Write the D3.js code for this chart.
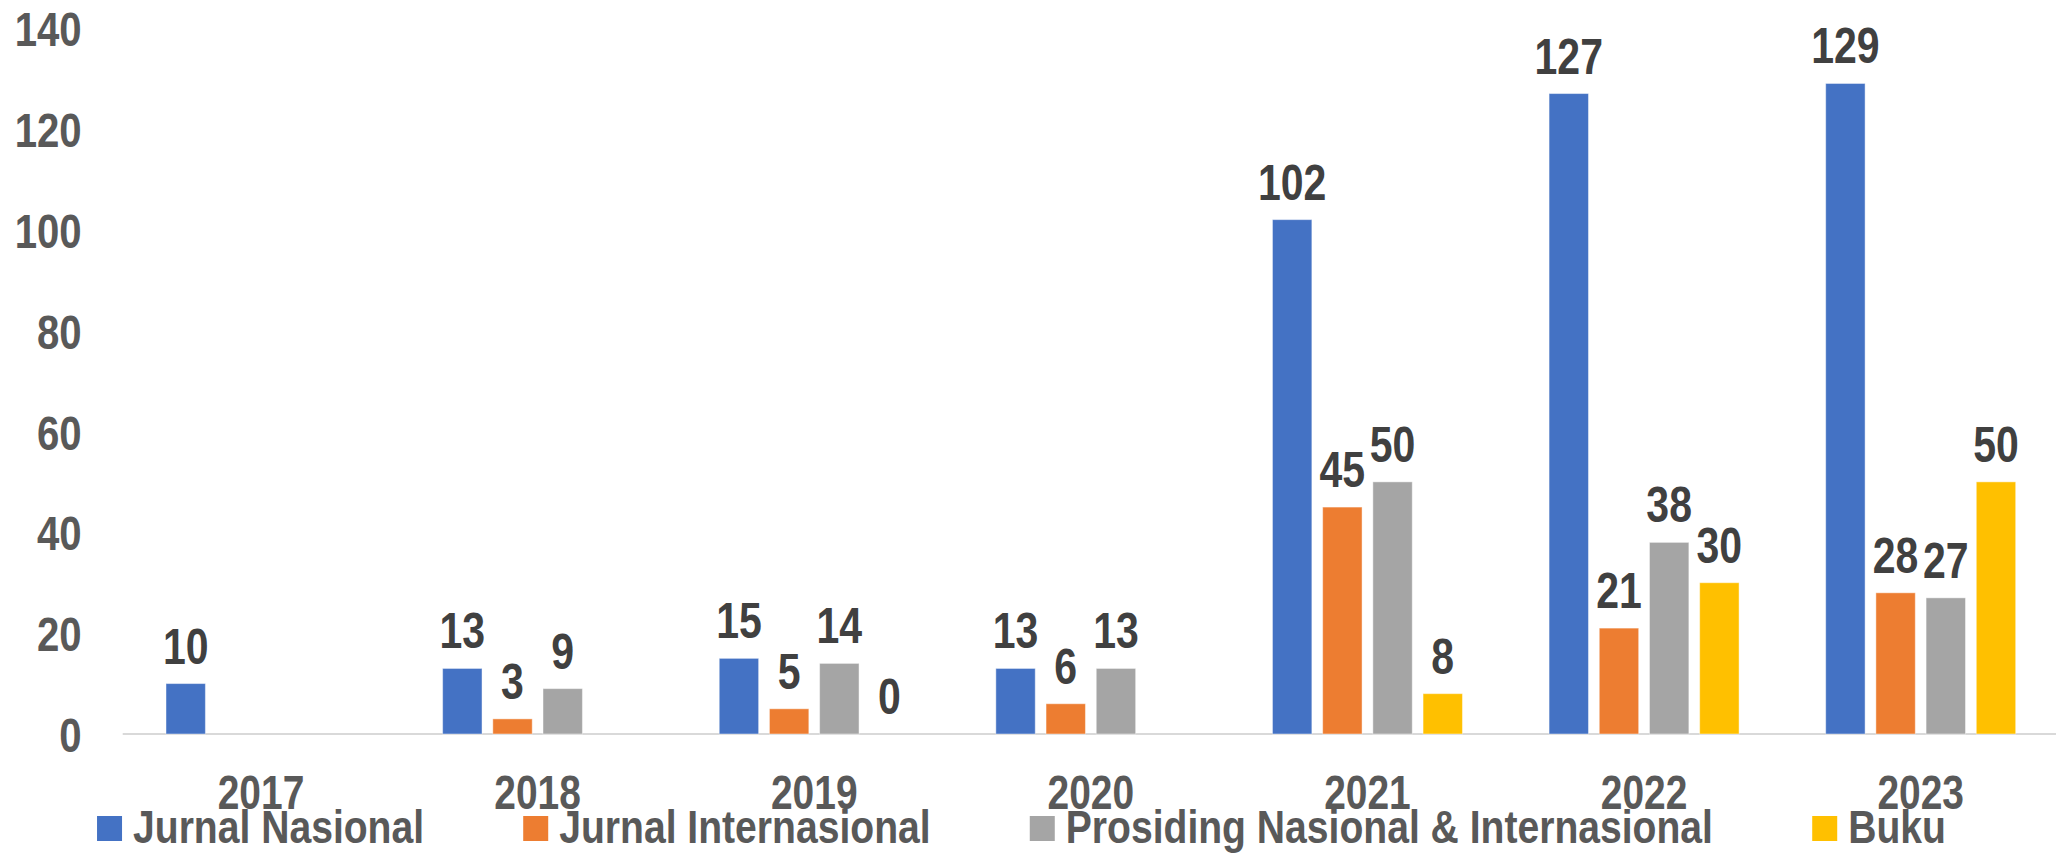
<!DOCTYPE html>
<html>
<head>
<meta charset="utf-8">
<script src="https://cdn.jsdelivr.net/npm/d3@7"></script>
<style>
  body { margin: 0; background: #fff; }
  text { font-family: "Liberation Sans", Arial, sans-serif; font-weight: bold; }
</style>
</head>
<body>
<div class="chart"></div>
<script>
// Data (null = no bar / no label)
const years = ["2017", "2018", "2019", "2020", "2021", "2022", "2023"];
const seriesNames = ["Jurnal Nasional", "Jurnal Internasional", "Prosiding Nasional & Internasional", "Buku"];
const jurnalNasional = [10, 13, 15, 13, 102, 127, 129];
const jurnalInternasional = [null, 3, 5, 6, 45, 21, 28];
const prosiding = [null, 9, 14, 13, 50, 38, 27];
const buku = [null, null, 0, null, 8, 30, 50];
const yTicks = [0, 20, 40, 60, 80, 100, 120, 140];
const colors = ["#4472C4", "#ED7D31", "#A5A5A5", "#FFC000"];

const seriesValues = [jurnalNasional, jurnalInternasional, prosiding, buku];

// flatten into bar records
let data = [];
years.forEach((yr, i) => {
    seriesNames.forEach((s, j) => {
        const v = seriesValues[j][i];
        if (v !== null) data.push({ year: yr, series: s, value: v });
    });
});

const W = 2056, H = 854;
const narrow = 0.82;       // text is a condensed face, squash Liberation Sans to match
const legendNarrow = 0.85;

const svg = d3.select(".chart")
    .append("svg")
    .attr("width", W)
    .attr("height", H);

// Scales
const x0 = d3.scaleBand()
    .domain(years)
    .range([122.7, 2059])
    .paddingInner(0)
    .paddingOuter(0);

const x1 = d3.scaleBand()
    .domain(seriesNames)
    .range([43.3, 233.3])
    .paddingInner(0.215)
    .paddingOuter(0);

const y = d3.scaleLinear()
    .domain([0, 140])
    .range([734, 28]);

const color = d3.scaleOrdinal().domain(seriesNames).range(colors);

// Y axis (labels only)
const yAxis = svg.append("g")
    .attr("transform", `translate(${x0.range()[0]}, 0)`)
    .call(d3.axisLeft(y).tickValues(yTicks).tickSize(0).tickPadding(0));
yAxis.select(".domain").remove();
yAxis.selectAll("text")
    .attr("x", 0)
    .attr("dy", "0.36em")
    .attr("transform", `translate(-41, 0) scale(${narrow}, 1)`)
    .attr("font-size", 49)
    .attr("font-family", null)
    .attr("fill", "#595959")
    .attr("text-anchor", "end");

// X axis baseline + labels
const xAxis = svg.append("g")
    .attr("transform", `translate(0, ${y(0)})`)
    .call(d3.axisBottom(x0).tickSize(0));
xAxis.select(".domain").remove();
xAxis.selectAll("text")
    .attr("y", 0)
    .attr("dy", 0)
    .attr("transform", `translate(0, 75) scale(${narrow}, 1)`)
    .attr("font-size", 47.5)
    .attr("font-family", null)
    .attr("fill", "#595959");

svg.append("line")
    .attr("x1", x0.range()[0])
    .attr("x2", W)
    .attr("y1", y(0))
    .attr("y2", y(0))
    .attr("stroke", "#d9d9d9")
    .attr("stroke-width", 2);

// Bars
svg.selectAll("rect.bar")
    .data(data)
    .enter()
    .append("rect")
        .attr("class", "bar")
        .attr("x", d => x0(d.year) + x1(d.series))
        .attr("y", d => y(d.value))
        .attr("width", x1.bandwidth())
        .attr("height", d => y(0) - y(d.value))
        .attr("fill", d => color(d.series))
        .attr("stroke", "#fff")
        .attr("stroke-opacity", 0.45)
        .attr("stroke-width", 1);

// Data labels
svg.selectAll("text.value")
    .data(data)
    .enter()
    .append("text")
        .attr("class", "value")
        .attr("text-anchor", "middle")
        .attr("font-size", 50)
        .attr("fill", "#404040")
        .attr("transform", d => `translate(${x0(d.year) + x1(d.series) + x1.bandwidth() / 2}, ${y(d.value) - 20}) scale(${narrow}, 1)`)
        .text(d => d.value);

// Legend
const legend = svg.append("g").attr("class", "legend");
const items = legend.selectAll("g")
    .data(seriesNames)
    .enter()
    .append("g");

items.append("rect")
    .attr("width", 25)
    .attr("height", 25)
    .attr("y", 816)
    .attr("fill", d => color(d));

items.append("text")
    .attr("font-size", 46)
    .attr("fill", "#595959")
    .text(d => d);

// lay out entries one after another, centred on the chart
let widths = [];
items.select("text").each(function () { widths.push(this.getComputedTextLength() * legendNarrow); });
const total = d3.sum(widths) + seriesNames.length * 36 + (seriesNames.length - 1) * 99;
let cursor = 1021.5 - total / 2;
items.each(function (d, i) {
    const g = d3.select(this);
    g.select("rect").attr("x", cursor);
    g.select("text").attr("transform", `translate(${cursor + 36}, 843) scale(${legendNarrow}, 1)`);
    cursor += 36 + widths[i] + 99;
});
</script>
</body>
</html>
